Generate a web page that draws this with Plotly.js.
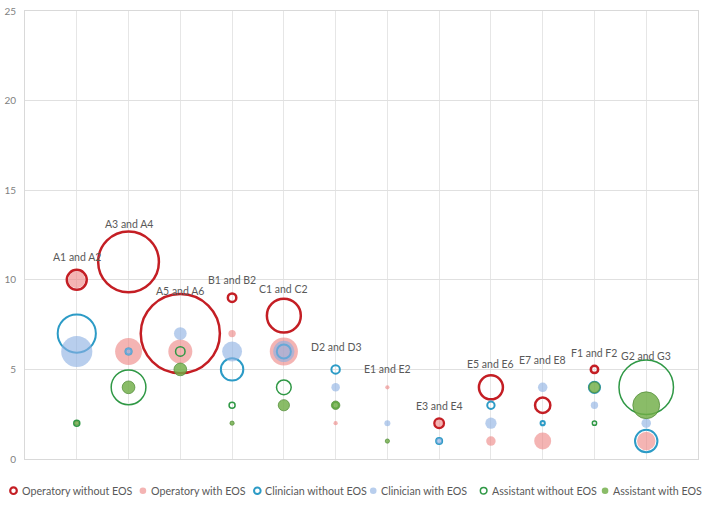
<!DOCTYPE html>
<html><head><meta charset="utf-8">
<script src="https://cdn.plot.ly/plotly-3.0.1.min.js"></script>
<style>html,body{margin:0;padding:0;background:#fff}#chart{width:705px;height:515px}</style>
</head><body><div id="chart"></div>
<script>
// Categories (x) and label heights
const categories = ["A1 and A2","A3 and A4","A5 and A6","B1 and B2","C1 and C2","D2 and D3","E1 and E2","E3 and E4","E5 and E6","E7 and E8","F1 and F2","G2 and G3"];
const labelY = [11.3, 13.1, 9.4, 10.0, 9.5, 6.26, 5.05, 2.96, 5.31, 5.5, 5.93, 5.76];

// Series values (y) and bubble sizes
const opWithoutY    = [10, 11, 7, 9, 8, null, null, 2, 4, 3, 5, null];
const opWithoutSize = [22, 205, 348, 4, 64, 0, 0, 5, 32, 13, 3, 0];

const opWithY    = [10, 6, 6, 7, 6, 2, 4, 2, 1, 1, null, 1];
const opWithSize = [16, 40, 32, 3, 44, 1, 1, 3, 5, 16, 0, 19];

const clinWithoutY    = [7, 6, null, 5, 6, 5, null, 1, 3, 2, 4, 1];
const clinWithoutSize = [81, 2, 0, 28, 11, 4, 0, 2, 3, 1, 7, 28];

const clinWithY    = [6, 6, 7, 6, 6, 4, 2, 1, 2, 4, 3, 2];
const clinWithSize = [54, 3, 9, 22, 25, 4, 2, 2, 7, 5, 3, 5];

const asstWithoutY    = [2, 4, 6, 3, 4, 3, null, null, null, null, 2, 4];
const asstWithoutSize = [2, 67, 5, 2, 12, 2, 0, 0, 0, 0, 1, 165];

const asstWithY    = [2, 4, 5, 2, 3, 3, 1, null, null, null, 4, 3];
const asstWithSize = [1, 9, 9, 1, 7, 4, 1, 0, 0, 0, 7, 40];

const seriesNames = ["Operatory without EOS","Operatory with EOS","Clinician without EOS","Clinician with EOS","Assistant without EOS","Assistant with EOS"];

const styles = [
  {fill:'rgba(0,0,0,0)', line:'#C41E24', lw:2.5},
  {fill:'rgba(236,130,128,0.6)', line:'rgba(0,0,0,0)', lw:0},
  {fill:'rgba(0,0,0,0)', line:'#2C9BC6', lw:2},
  {fill:'rgba(140,176,226,0.62)', line:'rgba(0,0,0,0)', lw:0},
  {fill:'rgba(0,0,0,0)', line:'#2F9845', lw:1.5},
  {fill:'rgba(112,173,71,0.82)', line:'rgba(80,140,55,0.9)', lw:0.8}
];
const ys = [opWithoutY, opWithY, clinWithoutY, clinWithY, asstWithoutY, asstWithY];
const ss = [opWithoutSize, opWithSize, clinWithoutSize, clinWithSize, asstWithoutSize, asstWithSize];

const traces = ys.map((y, i) => ({
  type:'scatter', mode:'markers', name: seriesNames[i],
  x: categories, y: y,
  marker:{size: ss[i], sizemode:'area', sizeref: 1/9, sizemin:0, opacity:1,
          color: styles[i].fill, line:{color: styles[i].line, width: styles[i].lw}},
  hoverinfo:'x+y+name', showlegend:false
}));

const fontFam = "Lato, 'Liberation Sans', sans-serif";
const annotations = categories.map((c, i) => ({
  x: c, y: labelY[i], xref:'x', yref:'y', text: c, showarrow:false,
  font:{family: fontFam, size: 10.5, color:'#595959'}, xanchor:'center', yanchor:'middle'
}));

// Manual legend (pixel layout)
const L = 25, R = 6.5, T = 11, B = 55.7, W = 705, H = 515;
const pw = W - L - R, ph = H - T - B;
const legendMarkerPx = [13.5, 143, 257.5, 373.5, 484, 605.5];
const legendPy = 491;
const toPX = px => (px - L) / pw;
const toPY = py => (H - B - py) / ph;
const shapes = [];
legendMarkerPx.forEach((px, i) => {
  const st = styles[i];
  const ring = st.fill === 'rgba(0,0,0,0)';
  shapes.push({type:'circle', xref:'paper', yref:'paper', xsizemode:'pixel', ysizemode:'pixel',
    xanchor: toPX(px), yanchor: toPY(legendPy), x0:-3.3, x1:3.3, y0:-3.3, y1:3.3,
    fillcolor: ring ? 'rgba(0,0,0,0)' : st.fill,
    line:{color: ring ? st.line : 'rgba(0,0,0,0)', width: ring ? Math.min(st.lw, 2.2) : 0}});
  annotations.push({xref:'paper', yref:'paper', x: toPX(px + 6), y: toPY(legendPy),
    text: seriesNames[i], showarrow:false, xanchor:'left', yanchor:'middle',
    font:{family: fontFam, size: 10.7, color:'#595959'}});
});

const layout = {
  width: W, height: H,
  margin:{l:L, r:R, t:T, b:B, pad:0},
  paper_bgcolor:'#ffffff', plot_bgcolor:'#ffffff',
  showlegend:false,
  font:{family: fontFam, color:'#595959'},
  xaxis:{type:'category', range:[-1, 12], showticklabels:false, ticks:'',
         showgrid:true, gridcolor:'#e6e6e6', gridwidth:1,
         showline:true, mirror:true, linecolor:'#d9d9d9', linewidth:1, zeroline:false, fixedrange:true},
  yaxis:{range:[0, 25], dtick:5, tick0:0, ticks:'', showgrid:true, gridcolor:'#e0e0e0',
         showline:true, mirror:true, linecolor:'#d9d9d9', linewidth:1, zeroline:false,
         tickfont:{family: fontFam, size:10, color:'#7f7f7f'}, ticklabelstandoff:6, fixedrange:true},
  annotations: annotations,
  shapes: shapes
};

Plotly.newPlot('chart', traces, layout, {displayModeBar:false, staticPlot:true});
</script>
</body></html>
